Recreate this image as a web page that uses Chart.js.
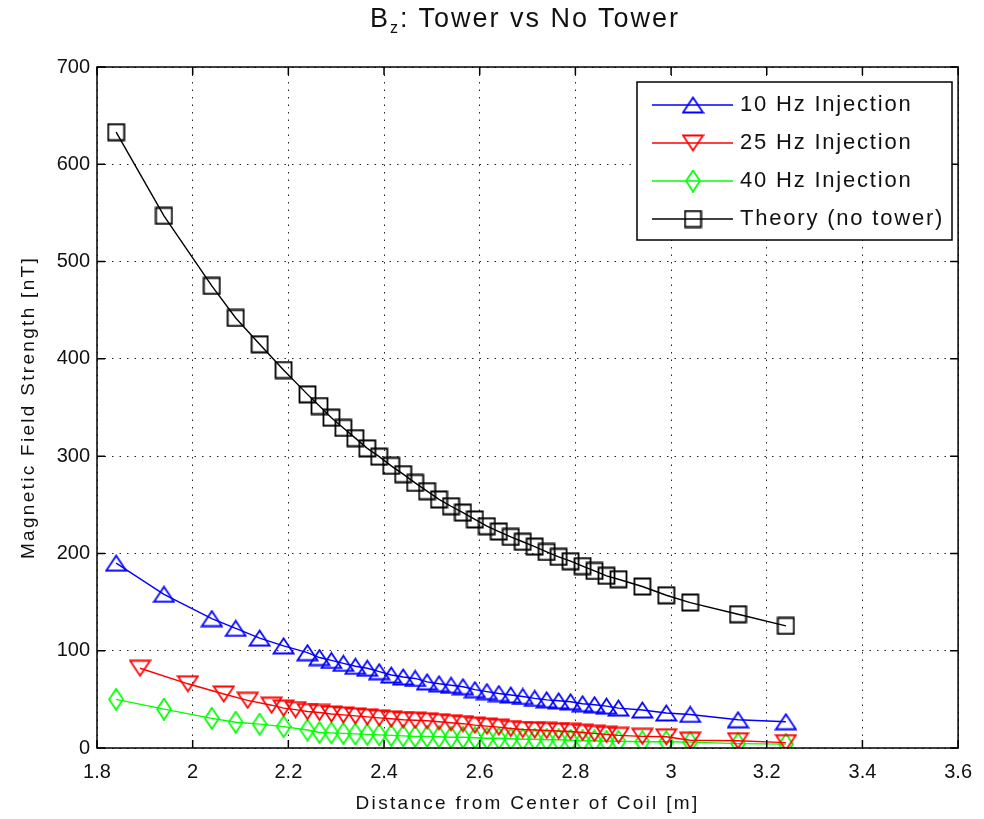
<!DOCTYPE html>
<html>
<head>
<meta charset="utf-8">
<script src="https://cdn.jsdelivr.net/npm/chart.js@4"></script>
<style>
  html, body { margin: 0; padding: 0; background: #fff; }
  #wrap { position: relative; width: 984px; height: 819px; }
  #title {
    position: absolute; left: 0; top: 3px; width: 984px; text-align: center;
    font-family: 'Liberation Sans', Arial, sans-serif; font-size: 27px; color: #111;
    letter-spacing: 2px; padding-left: 66px; box-sizing: border-box;
  }
  #title sub { font-size: 16px; }
</style>
</head>
<body>
<div id="wrap">
  <div id="title">B<sub>z</sub>: Tower vs No Tower</div>
  <canvas id="bzChart" width="984" height="819"></canvas>
</div>
<script>
// distances [m] shared by the 10 Hz, 40 Hz and theory curves
const distances = [1.84, 1.94, 2.04, 2.09, 2.14, 2.19, 2.24, 2.265, 2.29, 2.315, 2.34, 2.365, 2.39,
  2.415, 2.44, 2.465, 2.49, 2.515, 2.54, 2.565, 2.59, 2.615, 2.64, 2.665, 2.69, 2.715, 2.74,
  2.765, 2.79, 2.815, 2.84, 2.865, 2.89, 2.94, 2.99, 3.04, 3.14, 3.24];
// 25 Hz run starts a little further out
const distances25 = [1.89, 1.99, 2.065, 2.115, 2.165, 2.19, 2.215, 2.24, 2.265, 2.29, 2.315, 2.34,
  2.365, 2.39, 2.415, 2.44, 2.465, 2.49, 2.515, 2.54, 2.565, 2.59, 2.615, 2.64, 2.665, 2.69,
  2.715, 2.74, 2.765, 2.79, 2.815, 2.84, 2.865, 2.89, 2.94, 2.99, 3.04, 3.14, 3.24];

// field strength [nT]
const inj10 = [190, 158, 133, 123, 113, 105, 98, 93, 90, 87, 84, 82, 78.5, 75, 73, 71.5, 68, 66,
  64.5, 63, 60, 58, 56, 54.5, 53, 51, 49.5, 48.5, 47.5, 45.5, 44.5, 43, 41, 39, 36, 34.5, 29, 27];
const inj25 = [82, 66, 55.5, 49, 44, 41, 39.5, 37.5, 36.5, 35, 34, 33, 32, 31, 30, 29, 28.5, 28,
  27, 26, 25, 23.5, 22.5, 21.5, 20, 19, 18.5, 18, 17.5, 17, 16, 15, 14, 13, 12, 11.5, 8, 7.5, 5.5];
const inj40 = [50, 40, 30.5, 26.5, 24.5, 22, 18.5, 16, 15.5, 15, 14.5, 14, 13.5, 13, 12.5, 12, 12,
  11.5, 11, 11, 10.5, 10, 10, 9.5, 9, 9, 8.5, 8.5, 8, 7.5, 7.5, 7, 7, 6.5, 6.5, 6, 4.5, 4];
const theory = [633, 547, 475, 442, 415, 388.5, 363.5, 351.5, 339.5, 329, 318.5, 308, 299.5, 290,
  281.5, 272.5, 264, 255.5, 248.5, 242, 235, 228, 222.5, 217, 212, 207, 201.5, 196.5, 192, 187,
  182, 177, 173.5, 166, 157, 149.5, 137.5, 125.5];

const seriesNames = ['10 Hz Injection', '25 Hz Injection', '40 Hz Injection', 'Theory (no tower)'];
const xTicks = [1.8, 2, 2.2, 2.4, 2.6, 2.8, 3, 3.2, 3.4, 3.6];
const yTicks = [0, 100, 200, 300, 400, 500, 600, 700];

const FONT = "'Liberation Sans', Arial, sans-serif";

// hollow marker sprites, matlab style
function marker(kind, color) {
  const c = document.createElement('canvas');
  const w = kind === 'diamond' ? 16 : (kind === 'square' ? 19 : 23);
  const h = kind === 'diamond' ? 23 : (kind === 'square' ? 19 : 18);
  c.width = w; c.height = h;
  const g = c.getContext('2d');
  g.strokeStyle = color;
  g.lineWidth = 1.8;
  g.beginPath();
  if (kind === 'up') {
    g.moveTo(w / 2, 1.5); g.lineTo(w - 1.5, h - 1.5); g.lineTo(1.5, h - 1.5);
  } else if (kind === 'down') {
    g.moveTo(1.5, 1.5); g.lineTo(w - 1.5, 1.5); g.lineTo(w / 2, h - 1.5);
  } else if (kind === 'diamond') {
    g.moveTo(w / 2, 1); g.lineTo(w - 1, h / 2); g.lineTo(w / 2, h - 1); g.lineTo(1, h / 2);
  } else {
    g.rect(1.5, 1.5, w - 3, h - 3);
  }
  g.closePath();
  g.stroke();
  return c;
}

function pairs(xs, ys) {
  return xs.map((x, i) => ({ x: x, y: ys[i] }));
}

// axis titles get a little tracking, like the old figure renderer
function trackTitle(scale, px) {
  if (scale._tracked) return;
  scale._tracked = true;
  const orig = scale.drawTitle;
  scale.drawTitle = function () {
    this.ctx.save();
    this.ctx.letterSpacing = px + 'px';
    orig.apply(this, arguments);
    this.ctx.restore();
  };
}

const styles = [
  { color: '#0000ff', kind: 'up' },
  { color: '#ff0000', kind: 'down' },
  { color: '#00ff00', kind: 'diamond' },
  { color: '#000000', kind: 'square' }
];
const seriesData = [pairs(distances, inj10), pairs(distances25, inj25), pairs(distances, inj40), pairs(distances, theory)];

const datasets = seriesData.map((d, i) => ({
  label: seriesNames[i],
  data: d,
  borderColor: styles[i].color,
  backgroundColor: styles[i].color,
  borderWidth: 1.4,
  pointStyle: marker(styles[i].kind, styles[i].color),
  pointRadius: 10,
  tension: 0
}));

// axes box, inward ticks, legend box
const framePlugin = {
  id: 'frame',
  afterDraw(chart) {
    const ctx = chart.ctx;
    const a = chart.chartArea;
    const xs = chart.scales.x, ys = chart.scales.y;
    ctx.save();
    ctx.strokeStyle = '#000';
    ctx.lineWidth = 1.5;
    ctx.strokeRect(a.left, a.top, a.right - a.left, a.bottom - a.top);
    ctx.beginPath();
    xs.ticks.forEach(t => {
      const px = xs.getPixelForValue(t.value);
      ctx.moveTo(px, a.bottom); ctx.lineTo(px, a.bottom - 8);
      ctx.moveTo(px, a.top); ctx.lineTo(px, a.top + 8);
    });
    ys.ticks.forEach(t => {
      const py = ys.getPixelForValue(t.value);
      ctx.moveTo(a.left, py); ctx.lineTo(a.left + 8, py);
      ctx.moveTo(a.right, py); ctx.lineTo(a.right - 8, py);
    });
    ctx.stroke();

    // legend
    const lx = 637, ly = 82, lw = 315, lh = 158;
    ctx.fillStyle = '#fff';
    ctx.fillRect(lx, ly, lw, lh);
    ctx.lineWidth = 1.5;
    ctx.strokeStyle = '#000';
    ctx.strokeRect(lx, ly, lw, lh);
    ctx.font = '22px ' + FONT;
    ctx.letterSpacing = '1.8px';
    ctx.textBaseline = 'middle';
    chart.data.datasets.forEach((ds, i) => {
      const y = ly + 23 + i * 38;
      ctx.strokeStyle = ds.borderColor;
      ctx.lineWidth = 1.4;
      ctx.beginPath();
      ctx.moveTo(lx + 15, y); ctx.lineTo(lx + 96, y);
      ctx.stroke();
      const img = ds.pointStyle;
      ctx.drawImage(img, lx + 56 - img.width / 2, y - img.height / 2);
      ctx.fillStyle = '#111';
      ctx.fillText(ds.label, lx + 103, y);
    });
    ctx.restore();
  }
};

new Chart(document.getElementById('bzChart'), {
  type: 'line',
  data: { datasets: datasets },
  options: {
    responsive: false,
    animation: false,
    layout: { padding: { top: 67, right: 16, left: 0, bottom: 0 } },
    plugins: {
      legend: { display: false },
      tooltip: { enabled: false },
      title: { display: false }
    },
    scales: {
      x: {
        type: 'linear',
        min: 1.8,
        max: 3.6,
        afterBuildTicks: s => { s.ticks = xTicks.map(v => ({ value: v })); },
        afterFit: s => { s.height = 71; trackTitle(s, 2.3); },
        ticks: {
          color: '#111',
          font: { family: FONT, size: 20 },
          padding: 12,
          maxRotation: 0,
          callback: v => String(v)
        },
        grid: { color: '#222', lineWidth: 1, drawTicks: false },
        border: { display: false, dash: [1.5, 6] },
        title: {
          display: true,
          text: 'Distance from Center of Coil [m]',
          color: '#111',
          font: { family: FONT, size: 19 },
          padding: { top: 0, bottom: 4 }
        }
      },
      y: {
        type: 'linear',
        min: 0,
        max: 700,
        afterBuildTicks: s => { s.ticks = yTicks.map(v => ({ value: v })); },
        afterFit: s => { s.width = 97; trackTitle(s, 2.3); },
        ticks: {
          color: '#111',
          font: { family: FONT, size: 20 },
          padding: 7
        },
        grid: { color: '#222', lineWidth: 1, drawTicks: false },
        border: { display: false, dash: [1.5, 6] },
        title: {
          display: true,
          text: 'Magnetic Field Strength [nT]',
          color: '#111',
          font: { family: FONT, size: 19 },
          padding: { top: 17, bottom: 0 }
        }
      }
    }
  },
  plugins: [framePlugin]
});
</script>
</body>
</html>
